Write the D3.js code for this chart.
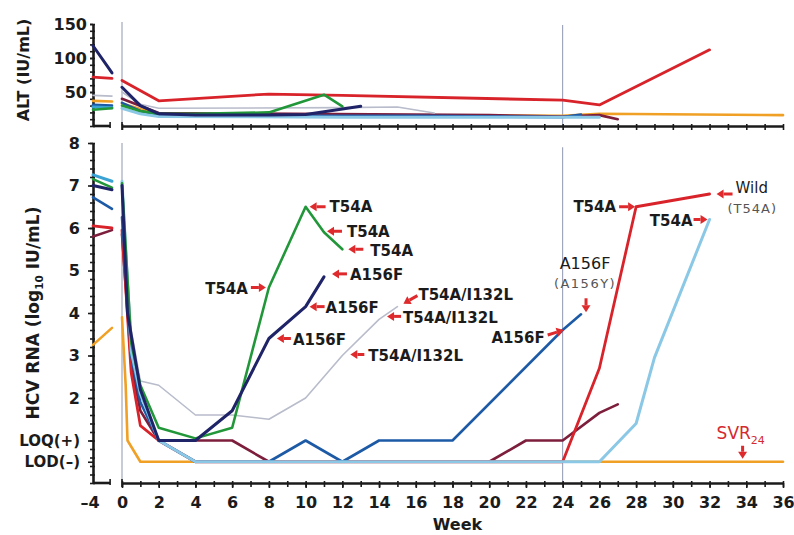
<!DOCTYPE html>
<html>
<head>
<meta charset="utf-8">
<script src="https://cdn.jsdelivr.net/npm/d3@7"></script>
<style>
  html, body { margin: 0; padding: 0; background: #fff; }
  svg { display: block; }
  text { font-family: "DejaVu Sans", sans-serif; }
</style>
</head>
<body>
<svg id="chart" width="794" height="535"></svg>
<script>
// ---------------- data ----------------
// pre-treatment screening visits (weeks before dosing)
const preWeeks = [-4, -1];

// HCV RNA, log10 IU/mL (LOQ plotted at 1, LOD at 0.5)
const LOQ = 1, LOD = 0.5;

const hcvGreenPre = [7.15, 6.95];
const hcvGreenWeeks = [0, 0.5, 1, 2, 4, 6, 8, 10, 11, 12];
const hcvGreen = [7.05, 3.3, 2.3, 1.3, 1.05, 1.3, 4.6, 6.5, 5.9, 5.5];

const hcvNavyPre = [7.0, 6.9];
const hcvNavyWeeks = [0, 0.3, 1, 2, 4, 6, 8, 10, 11];
const hcvNavy = [7.0, 4.0, 2.2, 1.0, 1.0, 1.7, 3.4, 4.15, 4.85];

const hcvGreyPre = [];
const hcvGreyWeeks = [0, 0.5, 1, 2, 4, 6, 8, 10, 12, 14, 15];
const hcvGrey = [6.9, 3.6, 2.4, 2.3, 1.6, 1.6, 1.5, 2.0, 3.0, 3.85, 4.15];

const hcvBluePre = [6.72, 6.45];
const hcvBlueWeeks = [0, 0.5, 1, 2, 4, 6, 8, 10, 12, 14, 18, 24, 25];
const hcvBlue = [6.25, 3.0, 1.9, 1.0, 0.5, 0.5, 0.5, 1.0, 0.5, 1.0, 1.0, 3.6, 3.97];

const hcvRedPre = [6.05, 6.0];
const hcvRedWeeks = [0, 0.5, 1, 2, 4, 24, 26, 28, 32];
const hcvRed = [5.95, 2.6, 1.35, 1.0, 0.5, 0.5, 2.7, 6.5, 6.8];

const hcvMaroonPre = [5.8, 5.95];
const hcvMaroonWeeks = [0, 0.5, 1, 2, 6, 8, 20, 22, 24, 26, 27];
const hcvMaroon = [5.85, 2.8, 1.7, 1.0, 1.0, 0.5, 0.5, 1.0, 1.0, 1.65, 1.85];

const hcvLightPre = [7.25, 7.1];
const hcvLightWeeks = [0, 0.5, 1, 2, 4, 26, 28, 29, 32];
const hcvLight = [7.1, 3.1, 2.1, 1.0, 0.5, 0.5, 1.4, 2.95, 6.2];

const hcvOrangePre = [3.25, 3.65];
const hcvOrangeWeeks = [0, 0.2, 0.3, 1, 36];
const hcvOrange = [3.9, 2.3, 1.0, 0.5, 0.5];

// ALT, IU/mL
const altRedPre = [72, 70];
const altRedWeeks = [0, 2, 8, 12, 24, 26, 32];
const altRed = [67, 37, 47, 45, 38, 31, 112];

const altNavyPre = [118, 78];
const altNavyWeeks = [0, 1, 2, 4, 8, 10, 12, 13];
const altNavy = [57, 30, 18, 16, 16, 17, 25, 29];

const altGreyPre = [45, 44];
const altGreyWeeks = [0, 1, 2, 12, 15, 17];
const altGrey = [50, 32, 26, 27, 28, 19];

const altGreenPre = [24, 26];
const altGreenWeeks = [0, 1, 2, 4, 6, 8, 11, 12];
const altGreen = [30, 22, 18, 18, 19, 20, 46, 29];

const altBluePre = [31, 30];
const altBlueWeeks = [0, 1, 2, 8, 16, 24, 25];
const altBlue = [34, 22, 16, 15, 15, 13, 17];

const altLightPre = [28, 27];
const altLightWeeks = [0, 1, 2, 12, 26];
const altLight = [26, 18, 14, 13, 13];

const altOrangePre = [37, 36];
const altOrangeWeeks = [0, 2, 24, 26, 36];
const altOrange = [33, 17, 15, 18, 16];

const altMaroonPre = [];
const altMaroonWeeks = [0, 2, 20, 24, 26, 27];
const altMaroon = [40, 19, 16, 14, 16, 10];

// axis ticks
const weekTicks = d3.range(0, 37, 2);
const weekMinor = d3.range(0, 37, 1);
const altTicks = [50, 100, 150];
const altMinor = d3.range(0, 151, 10);
const hcvTicks = [0.5, 1, 2, 3, 4, 5, 6, 7, 8];
const hcvTickLabels = ["LOD(–)", "LOQ(+)", "2", "3", "4", "5", "6", "7", "8"];
const hcvMinor = d3.range(0, 8.01, 0.2);
const preTickLabel = "–4";
const refWeeks = [0, 24];
const svrWeek = 33.8;

// ---------------- scales ----------------
const svg = d3.select("#chart");
const x = d3.scaleLinear().domain([0, 36]).range([122, 783]);
const xPre = d3.scaleLinear().domain([-4, -1]).range([93, 112]);
const yAlt = d3.scaleLinear().domain([0, 150]).range([126, 24]);
const yHcv = d3.scaleLinear().domain([0, 8]).range([483, 143]);
const axisX0 = 93;

const ink = "#1b1b1b";
const arrowRed = "#de2a2c";

// series table, built from the arrays above (drawing order = bottom to top)
const series = [
  { color: "#f0a024", w: 2.6, hPre: hcvOrangePre, hW: hcvOrangeWeeks, hV: hcvOrange, aPre: altOrangePre, aW: altOrangeWeeks, aV: altOrange },
  { color: "#7d1e3c", w: 2.6, hPre: hcvMaroonPre, hW: hcvMaroonWeeks, hV: hcvMaroon, aPre: altMaroonPre, aW: altMaroonWeeks, aV: altMaroon },
  { color: "#d8232a", w: 2.8, hPre: hcvRedPre, hW: hcvRedWeeks, hV: hcvRed, aPre: altRedPre, aW: altRedWeeks, aV: altRed },
  { color: "#1d5aa6", w: 2.6, hPre: hcvBluePre, hW: hcvBlueWeeks, hV: hcvBlue, aPre: altBluePre, aW: altBlueWeeks, aV: altBlue },
  { color: "#b8bccb", w: 1.6, hPre: hcvGreyPre, hW: hcvGreyWeeks, hV: hcvGrey, aPre: altGreyPre, aW: altGreyWeeks, aV: altGrey },
  { color: "#8ac8e6", preColor: "#3ba3d4", w: 3.0, hPre: hcvLightPre, hW: hcvLightWeeks, hV: hcvLight, aPre: altLightPre, aW: altLightWeeks, aV: altLight },
  { color: "#22973a", w: 2.6, hPre: hcvGreenPre, hW: hcvGreenWeeks, hV: hcvGreen, aPre: altGreenPre, aW: altGreenWeeks, aV: altGreen },
  { color: "#1f2468", w: 3.0, hPre: hcvNavyPre, hW: hcvNavyWeeks, hV: hcvNavy, aPre: altNavyPre, aW: altNavyWeeks, aV: altNavy }
];

// ---------------- reference lines (week 0, week 24) ----------------
const refG = svg.append("g");
refWeeks.forEach(wk => {
  refG.append("line").attr("x1", x(wk)).attr("x2", x(wk))
    .attr("y1", wk === 0 ? 22 : 25).attr("y2", yAlt(0))
    .attr("stroke", "#8f96b0").attr("stroke-width", 1);
  refG.append("line").attr("x1", x(wk)).attr("x2", x(wk))
    .attr("y1", wk === 0 ? yHcv(8) : yHcv(7.9)).attr("y2", yHcv(0))
    .attr("stroke", "#8f96b0").attr("stroke-width", 1);
});

// ---------------- axes ----------------
function styleAxis(g, width) {
  g.select(".domain").attr("stroke", ink).attr("stroke-width", width);
  g.selectAll(".tick line").attr("stroke", ink).attr("stroke-width", 1.6);
  g.selectAll("text").attr("fill", ink).attr("font-weight", "bold")
    .style("font-family", "'DejaVu Sans', sans-serif").attr("font-size", 16);
}

function xAxes(yPos, withLabels) {
  const minor = svg.append("g").attr("transform", `translate(0,${yPos})`)
    .call(d3.axisBottom(x).tickValues(weekMinor).tickSize(4).tickSizeOuter(0).tickFormat(""));
  styleAxis(minor, 2.6);
  minor.selectAll(".tick line").attr("y1", -2);
  if (withLabels) {
    const maj = svg.append("g").attr("transform", `translate(0,${yPos})`)
      .call(d3.axisBottom(x).tickValues(weekTicks).tickSize(5).tickPadding(9).tickSizeOuter(0));
    styleAxis(maj, 0);
    maj.select(".domain").remove();
  }
  // short broken segment under the screening visits
  const pre = svg.append("g");
  pre.append("line").attr("x1", axisX0).attr("x2", xPre(-1.3)).attr("y1", yPos).attr("y2", yPos)
    .attr("stroke", ink).attr("stroke-width", 2.6);
  pre.append("line").attr("x1", xPre(-1.3)).attr("x2", xPre(-1.3)).attr("y1", yPos - 4).attr("y2", yPos + 2)
    .attr("stroke", ink).attr("stroke-width", 1.6);
  pre.append("line").attr("x1", x(0)).attr("x2", x(0)).attr("y1", yPos - 4).attr("y2", yPos + 4)
    .attr("stroke", ink).attr("stroke-width", 1.6);
  if (withLabels) {
    pre.append("text").attr("x", xPre(-4) - 3).attr("y", yPos + 25)
      .attr("text-anchor", "middle").attr("font-weight", "bold").attr("font-size", 16)
      .attr("fill", ink).text(preTickLabel);
  }
}

// ALT y axis
const altMinorG = svg.append("g").attr("transform", `translate(${axisX0},0)`)
  .call(d3.axisLeft(yAlt).tickValues(altMinor).tickSize(3).tickSizeOuter(0).tickFormat(""));
styleAxis(altMinorG, 2.6);
altMinorG.selectAll(".tick line").attr("x1", 2);
const altMajG = svg.append("g").attr("transform", `translate(${axisX0},0)`)
  .call(d3.axisLeft(yAlt).tickValues(altTicks).tickSize(3).tickPadding(3).tickSizeOuter(0));
styleAxis(altMajG, 0);
altMajG.select(".domain").remove();
xAxes(yAlt(0), false);

// HCV RNA y axis
const hcvMinorG = svg.append("g").attr("transform", `translate(${axisX0},0)`)
  .call(d3.axisLeft(yHcv).tickValues(hcvMinor).tickSize(3).tickSizeOuter(0).tickFormat(""));
styleAxis(hcvMinorG, 2.6);
hcvMinorG.selectAll(".tick line").attr("x1", 2);
const hcvMajG = svg.append("g").attr("transform", `translate(${axisX0},0)`)
  .call(d3.axisLeft(yHcv).tickValues(hcvTicks).tickSize(5).tickPadding(8).tickSizeOuter(0)
    .tickFormat((d, i) => hcvTickLabels[i]));
styleAxis(hcvMajG, 0);
hcvMajG.select(".domain").remove();
hcvMajG.selectAll("text").attr("font-size", (d) => d < 2 ? 15 : 16);
xAxes(yHcv(0), true);

// axis titles
svg.append("text")
  .attr("transform", `translate(29,${(yAlt(0) + yAlt(150)) / 2 - 5}) rotate(-90)`)
  .attr("text-anchor", "middle").attr("font-weight", "bold").attr("font-size", 16)
  .attr("fill", ink).text("ALT (IU/mL)");

const hcvTitle = svg.append("text")
  .attr("transform", `translate(39,313) rotate(-90)`)
  .attr("text-anchor", "middle").attr("font-weight", "bold").attr("font-size", 17)
  .attr("fill", ink);
hcvTitle.append("tspan").text("HCV RNA (log");
hcvTitle.append("tspan").attr("font-size", 10.5).attr("dy", 4).text("10");
hcvTitle.append("tspan").attr("dy", -4).text(" IU/mL)");

svg.append("text").attr("x", (x(0) + x(36)) / 2 + 5).attr("y", 530)
  .attr("text-anchor", "middle").attr("font-weight", "bold").attr("font-size", 16)
  .attr("fill", ink).text("Week");

// ---------------- lines ----------------
const lineMain = (yScale) => d3.line().x(d => x(d[0])).y(d => yScale(d[1]));
const linePre = (yScale) => d3.line().x(d => xPre(d[0])).y(d => yScale(d[1]));
const zip = (ws, vs) => ws.map((w, i) => [w, vs[i]]);

const lineG = svg.append("g").attr("fill", "none")
  .attr("stroke-linejoin", "round").attr("stroke-linecap", "round");

series.forEach(s => {
  [[s.aPre, s.aW, s.aV, yAlt], [s.hPre, s.hW, s.hV, yHcv]].forEach(([pre, ws, vs, ys]) => {
    if (pre.length) {
      lineG.append("path").attr("d", linePre(ys)(zip(preWeeks, pre)))
        .attr("stroke", s.preColor || s.color).attr("stroke-width", s.w);
    }
    lineG.append("path").attr("d", lineMain(ys)(zip(ws, vs)))
      .attr("stroke", s.color).attr("stroke-width", s.w);
  });
});

// ---------------- mutation annotations ----------------
const annG = svg.append("g");
function arrow(x1, y1, x2, y2) {
  const a = Math.atan2(y2 - y1, x2 - x1);
  const head = 7, hw = 4.5;
  const bx = x2 - head * Math.cos(a), by = y2 - head * Math.sin(a);
  annG.append("line").attr("x1", x1).attr("y1", y1).attr("x2", bx).attr("y2", by)
    .attr("stroke", arrowRed).attr("stroke-width", 3);
  annG.append("path")
    .attr("d", `M${x2},${y2}L${bx + hw * Math.sin(a)},${by - hw * Math.cos(a)}L${bx - hw * Math.sin(a)},${by + hw * Math.cos(a)}Z`)
    .attr("fill", arrowRed);
}
function valueAt(ws, vs, wk) { return vs[ws.indexOf(wk)]; }

// [label, weeks, values, week, tip dx, tip dy, tail dx, tail dy, text dx, text dy, anchor]
const annotations = [
  ["T54A", hcvGreenWeeks, hcvGreen, 10, 4, 0, 20, 0, 24, 5, "start"],
  ["T54A", hcvGreenWeeks, hcvGreen, 11, 3, -1, 18, -1, 23, 5, "start"],
  ["T54A", hcvGreenWeeks, hcvGreen, 12, 6, 0, 21, 0, 28, 7, "start"],
  ["T54A", hcvGreenWeeks, hcvGreen, 8, -3, 0, -18, 0, -21, 6, "end"],
  ["A156F", hcvNavyWeeks, hcvNavy, 11, 8, -3, 23, -3, 26, 3, "start"],
  ["A156F", hcvNavyWeeks, hcvNavy, 10, 4, 0, 19, 0, 20, 6, "start"],
  ["A156F", hcvNavyWeeks, hcvNavy, 8, 8, 0, 22, 0, 24, 6, "start"],
  ["T54A/I132L", hcvGreyWeeks, hcvGrey, 15, 6, -3, 20, -11, 21, -7, "start"],
  ["T54A/I132L", hcvGreyWeeks, hcvGrey, 14, 8, -3, 22, -3, 24, 4, "start"],
  ["T54A/I132L", hcvGreyWeeks, hcvGrey, 12, 8, -1, 22, -1, 26, 5, "start"],
  ["A156F", hcvBlueWeeks, hcvBlue, 24, 1, 0, -15, 5, -18, 13, "end"],
  ["T54A", hcvRedWeeks, hcvRed, 28, -1, 0, -17, 0, -20, 5, "end"],
  ["T54A", hcvLightWeeks, hcvLight, 32, -2, 0, -16, 0, -17, 6, "end"]
];
annotations.forEach(([label, ws, vs, wk, tx, ty, lx, ly, sx, sy, anchor]) => {
  const px = x(wk), py = yHcv(valueAt(ws, vs, wk));
  arrow(px + lx, py + ly, px + tx, py + ty);
  annG.append("text").attr("x", px + sx).attr("y", py + sy).attr("text-anchor", anchor)
    .attr("font-weight", "bold").attr("font-size", 15).attr("fill", ink).text(label);
});

// A156F (A156Y) at the end of the week-25 visit
{
  const px = x(25), py = yHcv(valueAt(hcvBlueWeeks, hcvBlue, 25));
  arrow(px + 5, py - 16, px + 5, py - 2);
  annG.append("text").attr("x", px + 4).attr("y", py - 45).attr("text-anchor", "middle")
    .attr("font-size", 16).attr("fill", ink).text("A156F");
  annG.append("text").attr("x", px + 4).attr("y", py - 26).attr("text-anchor", "middle")
    .attr("font-size", 13).attr("letter-spacing", 1.5).attr("fill", "#555").text("(A156Y)");
}
// Wild (T54A) at the end of the red series
{
  const px = x(32), py = yHcv(valueAt(hcvRedWeeks, hcvRed, 32));
  arrow(px + 23, py, px + 7, py);
  annG.append("text").attr("x", px + 26).attr("y", py - 1)
    .attr("font-size", 15).attr("fill", ink).text("Wild");
  annG.append("text").attr("x", px + 18).attr("y", py + 19)
    .attr("font-size", 13).attr("letter-spacing", 1).attr("fill", "#555").text("(T54A)");
}
// SVR24 on the LOD line
{
  const px = x(svrWeek), py = yHcv(LOD);
  arrow(px, py - 16, px, py - 3);
  const t = annG.append("text").attr("x", px - 26).attr("y", py - 23)
    .attr("font-size", 17).attr("fill", "#d42a30");
  t.append("tspan").text("SVR");
  t.append("tspan").attr("font-size", 11).attr("dy", 5).text("24");
}
</script>
</body>
</html>
